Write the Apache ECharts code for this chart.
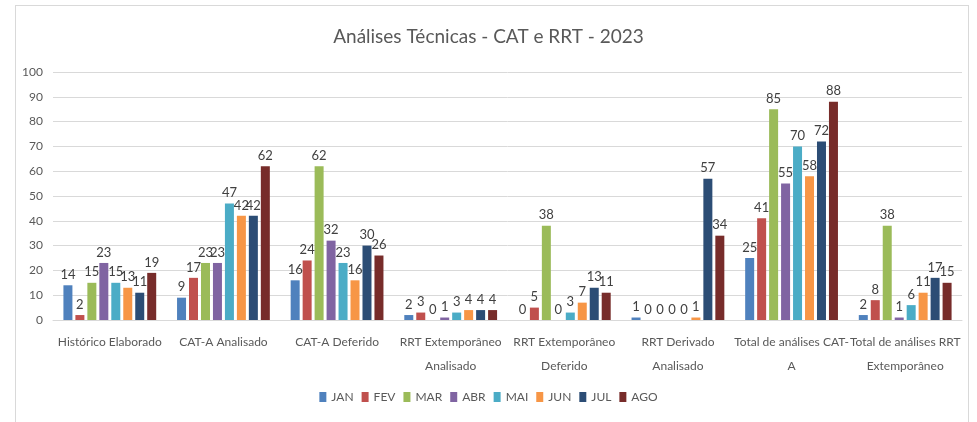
<!DOCTYPE html>
<html>
<head>
<meta charset="utf-8">
<script src="https://cdn.jsdelivr.net/npm/echarts@6/dist/echarts.min.js"></script>
<style>
  html, body { margin: 0; padding: 0; background: #fff; }
  #frame { position: absolute; left: 15px; top: 5px; width: 952px; height: 430px; border: 1px solid #d9d9d9; }
  #chart { position: absolute; left: 0; top: 0; width: 977px; height: 422px; }
</style>
</head>
<body>
<div id="frame"></div>
<div id="chart"></div>
<script>
// categories (line breaks as in the original chart)
const categories = [
  'Histórico Elaborado',
  'CAT-A Analisado',
  'CAT-A Deferido',
  'RRT Extemporâneo\nAnalisado',
  'RRT Extemporâneo\nDeferido',
  'RRT Derivado\nAnalisado',
  'Total de análises CAT-\nA',
  'Total de análises RRT\nExtemporâneo'
];
const months = ['JAN', 'FEV', 'MAR', 'ABR', 'MAI', 'JUN', 'JUL', 'AGO'];

// one array per month, in category order
const jan = [14, 9, 16, 2, 0, 1, 25, 2];
const fev = [2, 17, 24, 3, 5, 0, 41, 8];
const mar = [15, 23, 62, 0, 38, 0, 85, 38];
const abr = [23, 23, 32, 1, 0, 0, 55, 1];
const mai = [15, 47, 23, 3, 3, 0, 70, 6];
const jun = [13, 42, 16, 4, 7, 1, 58, 11];
const jul = [11, 42, 30, 4, 13, 57, 72, 17];
const ago = [19, 62, 26, 4, 11, 34, 88, 15];

const colors = ['#4f81bd', '#c0504d', '#9bbb59', '#8064a2', '#4bacc6', '#f79646', '#2c4d75', '#772c2a'];
const font = "Lato, 'Open Sans', sans-serif";

const chart = echarts.init(document.getElementById('chart'));

const seriesData = [jan, fev, mar, abr, mai, jun, jul, ago];

chart.setOption({
  animation: false,
  color: colors,
  textStyle: { fontFamily: font },
  title: {
    text: 'Análises Técnicas - CAT e RRT - 2023',
    left: 'center',
    top: 22,
    textStyle: { fontSize: 19, fontWeight: 'normal', color: '#595959', fontFamily: font }
  },
  legend: {
    data: months,
    bottom: 14,
    left: 'center',
    icon: 'rect',
    itemWidth: 7,
    itemHeight: 10,
    itemGap: 8,
    textStyle: { fontSize: 12, color: '#595959', fontFamily: font }
  },
  grid: { left: 53, right: 15, top: 72, bottom: 102 },
  xAxis: {
    type: 'category',
    data: categories,
    axisTick: { show: false },
    axisLine: { lineStyle: { color: '#d9d9d9' } },
    axisLabel: { interval: 0, color: '#595959', fontSize: 12, margin: 10, lineHeight: 24, fontFamily: font }
  },
  yAxis: {
    type: 'value',
    min: 0,
    max: 100,
    interval: 10,
    axisLabel: { color: '#595959', fontSize: 12, margin: 10, fontFamily: font },
    splitLine: { lineStyle: { color: '#d9d9d9' } }
  },
  series: seriesData.map((d, i) => ({
    name: months[i],
    type: 'bar',
    data: d,
    barWidth: 9,
    barGap: '33%',
    label: {
      show: true,
      position: 'top',
      distance: 4,
      color: '#404040',
      fontSize: 13,
      fontFamily: font
    }
  }))
});
</script>
</body>
</html>
